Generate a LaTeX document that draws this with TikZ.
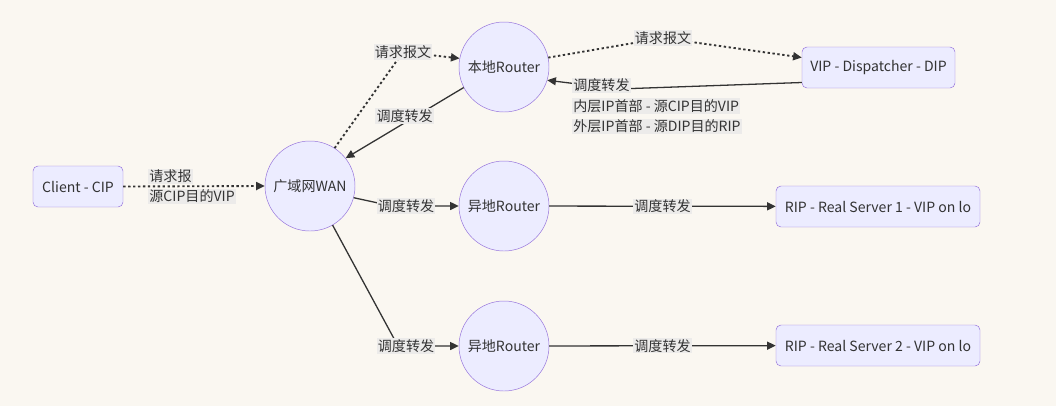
\documentclass[tikz,border=0pt]{standalone}
\usepackage{fontspec}
\setmainfont{Noto Sans CJK SC}
\usetikzlibrary{arrows.meta}
\definecolor{paper}{RGB}{250,247,241}
\definecolor{nodefill}{RGB}{236,236,255}
\definecolor{nodeline}{RGB}{147,112,219}
\definecolor{ink}{RGB}{51,51,51}
\definecolor{lblfill}{RGB}{236,235,234}
\newcommand{\lblline}[1]{{\setlength{\fboxsep}{1pt}\colorbox{lblfill}{#1}}}

\begin{document}
\begin{tikzpicture}[x = 0.03cm, y = -0.03cm,
    every node/.style = {text = ink, font = \fontsize{12}{15}\selectfont},
    box/.style = {draw = nodeline, fill = nodefill, rounded corners = 0.15cm, minimum height = 1.23cm, inner sep = 0pt},
    hub/.style = {shape = circle, draw = nodeline, fill = nodefill, minimum size = 2.7cm, inner sep = 0pt},
    lbl/.style = {sharp corners, fill = lblfill, inner sep = 1pt},
    flow/.style = {draw = ink, line width = 1.1pt, rounded corners = 0.2cm, -{Triangle[length = 2.6mm, width = 2.4mm]}},
    req/.style = {flow, line width = 1.6pt, dash pattern = on 2pt off 2.2pt}]
    \fill[paper] (0, 0) rectangle (1056, 406);
    \node[box, minimum width = 2.7cm] (client) at (78, 186.5) {Client - CIP};
    \node[hub] (wan) at (310, 186) {广域网WAN};
    \node[hub] (local) at (504, 67) {本地Router};
    \node[hub] (remoteA) at (504, 206) {异地Router};
    \node[hub] (remoteB) at (504, 346) {异地Router};
    \node[box, minimum width = 4.59cm] (dispatcher) at (878.5, 67.5) {VIP - Dispatcher - DIP};
    \node[box, minimum width = 6.12cm] (serverA) at (878, 206.5) {RIP - Real Server 1 - VIP on lo};
    \node[box, minimum width = 6.12cm] (serverB) at (878, 345.5) {RIP - Real Server 2 - VIP on lo};
    \coordinate (up) at (403, 52);
    \coordinate (over) at (663, 38);
    \coordinate (back) at (618, 89);
    \coordinate (bendA) at (392, 206);
    \coordinate (bendB) at (398, 346);

    \draw[req] (client.east) -- node[lbl, pos = 0.17, anchor = south west, yshift = 1pt] {请求报}
        node[lbl, pos = 0.17, anchor = north west, yshift = -1pt] {源CIP目的VIP} (wan.west);
    \draw[req] (wan.57) -- (up) node[lbl] {请求报文} -- (local.169);
    \draw[req, rounded corners = 1cm] (local.12) -- (over) node[lbl] {请求报文} -- ([yshift = 0.3cm]dispatcher.west);
    \draw[flow] ([yshift = -0.45cm]dispatcher.west) -- (back) -- (local.-17)
        node[align = left, inner sep = 0pt, at = {(657, 106)}, font = \fontsize{12}{17.5}\selectfont]
        {\lblline{调度转发}\\\lblline{内层IP首部 - 源CIP目的VIP}\\\lblline{外层IP首部 - 源DIP目的RIP}};
    \draw[flow] (local.207) -- node[lbl, yshift = 0.2cm] {调度转发} (wan.38);
    \draw[flow] (wan.-15) -- (bendA) -- (remoteA.west) node[lbl, at = {(406, 206)}] {调度转发};
    \draw[flow] (wan.-60) -- (bendB) -- (remoteB.west) node[lbl, at = {(406, 346)}] {调度转发};
    \draw[flow] (remoteA) -- node[lbl] {调度转发} (serverA);
    \draw[flow] (remoteB) -- node[lbl] {调度转发} (serverB);
\end{tikzpicture}
\end{document}
